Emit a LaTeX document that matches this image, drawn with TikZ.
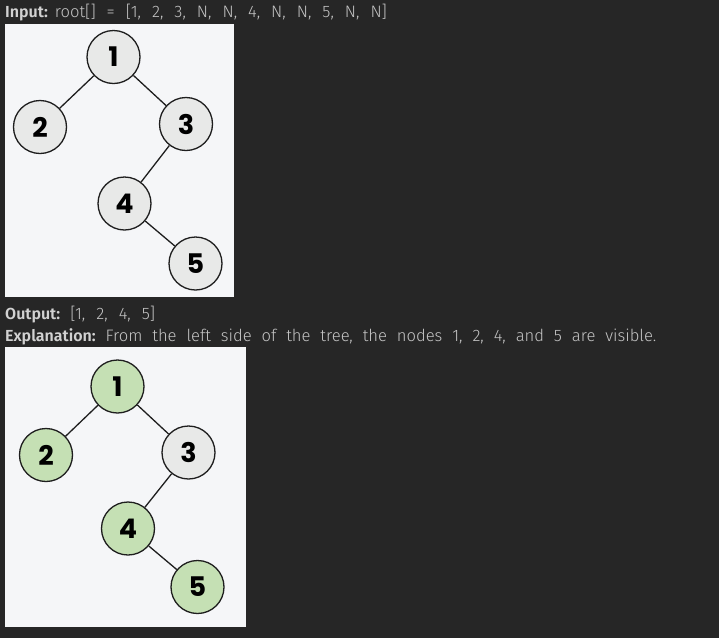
\documentclass[tikz,border=0pt]{standalone}
\usepackage{fontspec}
\setmainfont{Fira Sans Light}[BoldFont=Fira Sans SemiBold]
\newfontfamily\numfont{Poppins}
\definecolor{pagebg}{HTML}{262626}
\definecolor{panelbg}{HTML}{F5F6F8}
\definecolor{txt}{HTML}{C4C4C4}
\definecolor{lbl}{HTML}{D2D2D2}
\definecolor{greenfill}{HTML}{C5E0B4}
\definecolor{grayfill}{HTML}{E8E9E8}
\definecolor{edge}{HTML}{1E1E1E}
\newcommand\ga{\hspace{11pt}}
\newcommand\gb{\hspace{9.9pt}}
\newcommand\lb[1]{{\fontsize{16}{16}\selectfont\color{lbl}\bfseries #1}}
\tikzset{
  treenode/.style={circle,draw=edge,line width=1.3pt,minimum size=53pt,inner sep=0pt,
    font=\numfont\bfseries\fontsize{27}{27}\selectfont,text=black},
  plain/.style={treenode,fill=grayfill},
  seen/.style={treenode,fill=greenfill},
  link/.style={draw=edge,line width=1.3pt},
  line/.style={anchor=base west,inner sep=0pt,text=txt,font=\fontsize{16.6}{16.6}\selectfont},
  panel/.style={fill=panelbg,draw=none}
}
\begin{document}
\begin{tikzpicture}[x=1pt,y=-1pt]
\fill[pagebg] (0,0) rectangle (719,638);
\useasboundingbox (0,0) rectangle (719,638);
% texts
\node[line] (in) at (5,17.5) {\lb{Input:}\hspace{7pt}root[]\ga=\ga[1,\ga2,\ga3,\ga N,\ga N,\ga 4,\ga N,\ga N,\ga 5,\ga N,\ga N]};
\node[line] (out) at (5,319) {\lb{Output:}\hspace{10pt}[1,\ga2,\ga4,\ga5]};
\node[line] (exp) at (5,341) {\lb{Explanation:}\hspace{10pt}From\gb the\gb left\gb side\gb of\gb the\gb tree,\gb the\gb nodes\gb 1,\gb 2,\gb 4,\gb and\gb 5\gb are\gb visible.};
% top panel
\fill[panel] (5,24) rectangle (233.5,297);
\node[plain] (a1) at (113.5,57) {1};
\node[plain] (a2) at (40,127) {2};
\node[plain] (a3) at (186,124) {3};
\node[plain] (a4) at (124.5,203.5) {4};
\node[plain] (a5) at (195.5,263.5) {5};
\draw[link] (a1) -- (a2);
\draw[link] (a1) -- (a3);
\draw[link] (a3) -- (a4);
\draw[link] (a4) -- (a5);
% bottom panel
\fill[panel] (5,347) rectangle (245.5,627);
\node[seen] (b1) at (117.5,386.5) {1};
\node[seen] (b2) at (46,455) {2};
\node[plain] (b3) at (188.5,452.5) {3};
\node[seen] (b4) at (128,528.5) {4};
\node[seen] (b5) at (197.5,587) {5};
\draw[link] (b1) -- (b2);
\draw[link] (b1) -- (b3);
\draw[link] (b3) -- (b4);
\draw[link] (b4) -- (b5);
\end{tikzpicture}
\end{document}
